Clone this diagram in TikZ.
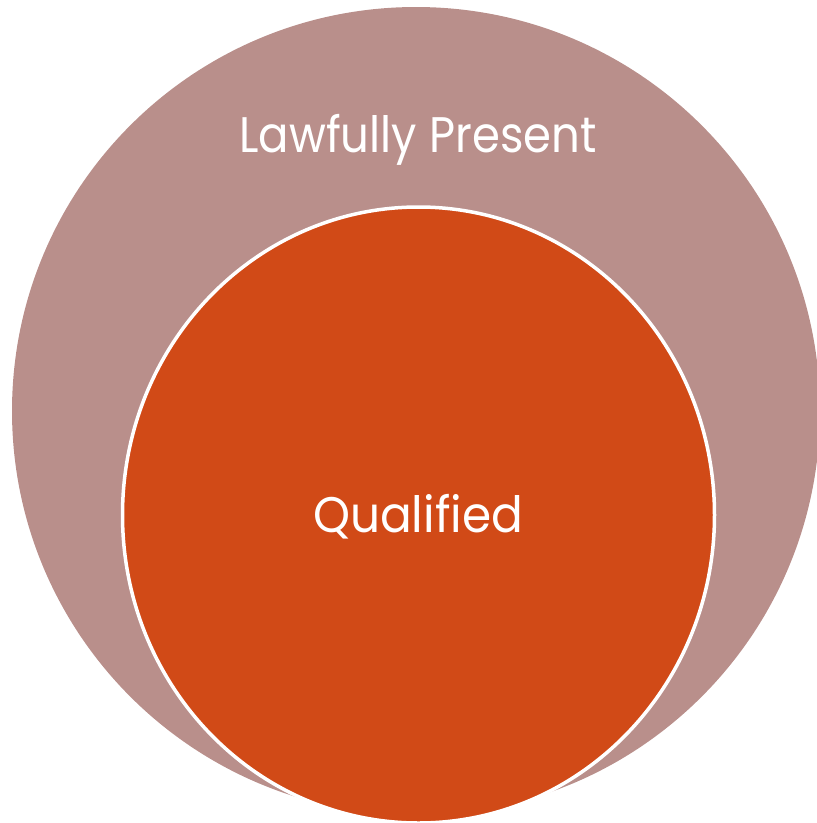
\documentclass[tikz,border=0pt]{standalone}
\usepackage{fontspec}
\setmainfont{Poppins}
\definecolor{outerpink}{HTML}{B98F8B}
\definecolor{innerorange}{HTML}{D14A17}
\tikzset{
  lbl/.style={text=white, inner sep=0pt, anchor=base, font=\fontsize{50}{50}\selectfont},
}
\begin{document}
\begin{tikzpicture}[x=1pt,y=-1pt]
\useasboundingbox (0,0) rectangle (817,823);
\fill[outerpink] (416,411) ellipse [x radius=404, y radius=404];
\fill[innerorange, draw=white, line width=3.5pt] (418.5,515) ellipse [x radius=296, y radius=308];
\node[lbl] (lp) at (418,152) {\scalebox{0.9}[1]{Lawfully Present}};
\node[lbl] (q) at (418,532) {\scalebox{0.94}[1]{Qualified}};
\end{tikzpicture}
\end{document}
